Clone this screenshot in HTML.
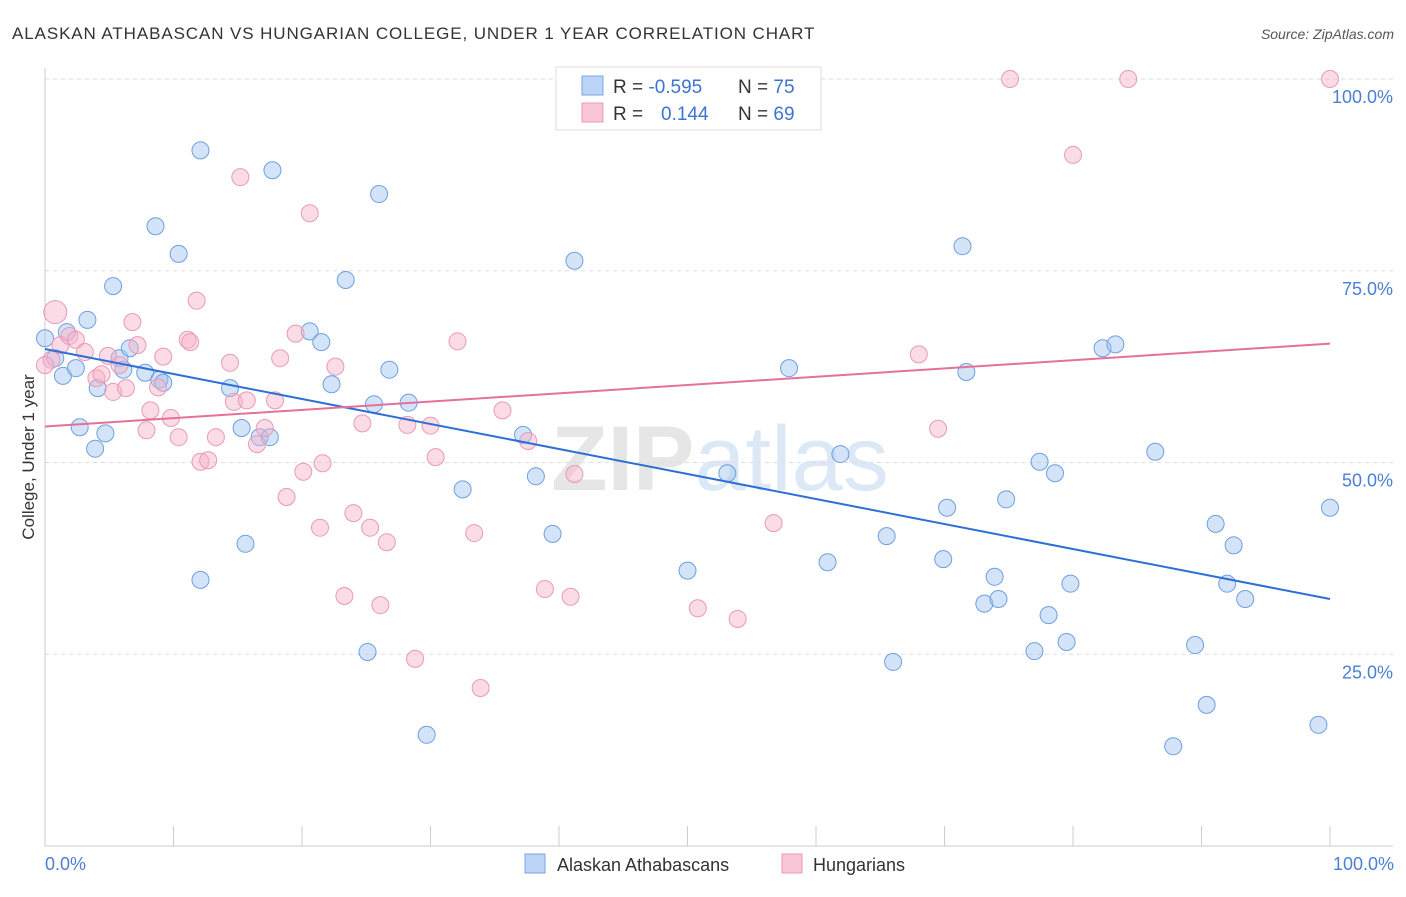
<!DOCTYPE html>
<html><head><meta charset="utf-8"><style>
body{margin:0;background:#fff;font-family:"Liberation Sans",sans-serif;}
svg text{font-family:"Liberation Sans",sans-serif;}
</style></head><body>
<svg id="chart" width="1406" height="892" xmlns="http://www.w3.org/2000/svg">
<text x="12" y="39" font-size="17" fill="#333" letter-spacing="0.9">ALASKAN ATHABASCAN VS HUNGARIAN COLLEGE, UNDER 1 YEAR CORRELATION CHART</text>
<text x="1394" y="39" font-size="14" fill="#555" text-anchor="end" font-style="italic">Source: ZipAtlas.com</text>
<text x="720" y="490" font-size="92" fill="#e6e6e6" text-anchor="middle" font-family="Liberation Serif" font-weight="bold">ZIP<tspan fill="#dce8f6" font-family="Liberation Sans" font-weight="normal">atlas</tspan></text>
<g id="grid"></g>
<g id="axes"></g>
<g id="pts"></g>
<g id="trend"></g>
<text transform="translate(34,457) rotate(-90)" font-size="17" fill="#333" text-anchor="middle">College, Under 1 year</text>
<text x="45" y="870" font-size="18" fill="#4a7fd4">0.0%</text>
<text x="1394" y="870" font-size="18" fill="#4a7fd4" text-anchor="end">100.0%</text>
<g>
<rect x="556" y="67" width="265" height="63" fill="#fff" stroke="#ddd"/>
<rect x="582" y="76" width="21" height="19" fill="#bcd4f6" stroke="#7aa6e3"/>
<rect x="582" y="103" width="21" height="19" fill="#f9c6d5" stroke="#eb9ab5"/>
<text x="613" y="93" font-size="19" fill="#333">R = <tspan fill="#3b74d1">-0.595</tspan><tspan x="738">N = </tspan><tspan fill="#3b74d1">75</tspan></text>
<text x="613" y="120" font-size="19" fill="#333">R = <tspan x="661" fill="#3b74d1">0.144</tspan><tspan x="738">N = </tspan><tspan fill="#3b74d1">69</tspan></text>
</g>
<g>
<rect x="525" y="854" width="20" height="19" fill="#bcd4f6" stroke="#7aa6e3"/>
<text x="557" y="871" font-size="18" fill="#333">Alaskan Athabascans</text>
<rect x="782" y="854" width="20" height="19" fill="#f9c6d5" stroke="#eb9ab5"/>
<text x="813" y="871" font-size="18" fill="#333">Hungarians</text>
</g>
</svg>
<script>
const yTicks=[25,50,75,100];
const yTickLabels=["25.0%","50.0%","75.0%","100.0%"];
const xTicks=[0,10,20,30,40,50,60,70,80,90,100];
const blueX=[0,0.8,1.4,1.7,2.4,2.7,3.3,3.9,4.1,4.7,5.3,5.8,6.1,6.6,7.8,8.6,8.9,9.2,10.4,12.1,12.1,14.4,15.3,15.6,16.7,17.5,17.7,20.6,21.5,22.3,23.4,25.1,25.6,26.0,26.8,28.3,29.7,32.5,37.2,38.2,39.5,41.2,50.0,53.1,57.9,60.9,61.9,65.5,66.0,69.9,70.2,71.4,71.7,73.1,73.9,74.2,74.8,77.0,77.4,78.1,78.6,79.5,79.8,82.3,83.3,86.4,87.8,89.5,90.4,91.1,92.0,92.5,93.4,99.1,100];
const blueY=[66.2,63.6,61.3,67.0,62.3,54.6,68.6,51.8,59.7,53.8,73.0,63.6,62.1,64.9,61.7,80.8,60.8,60.4,77.2,34.7,90.7,59.7,54.5,39.4,53.3,53.3,88.1,67.1,65.7,60.2,73.8,25.3,57.6,85.0,62.1,57.8,14.5,46.5,53.6,48.2,40.7,76.3,35.9,48.6,62.3,37.0,51.1,40.4,24.0,37.4,44.1,78.2,61.8,31.6,35.1,32.2,45.2,25.4,50.1,30.1,48.6,26.6,34.2,64.9,65.4,51.4,13.0,26.2,18.4,42.0,34.2,39.2,32.2,15.8,44.1];
const pinkX=[0.8,0.5,1.2,1.9,2.4,3.1,4.0,4.4,4.9,5.3,5.8,6.3,6.8,7.2,7.9,8.2,8.8,9.2,9.8,10.4,11.1,11.3,11.8,12.1,12.7,13.3,14.4,14.7,15.2,15.7,16.5,17.1,17.9,18.3,18.8,19.5,20.1,20.6,21.4,21.6,22.6,23.3,24.0,24.7,25.3,26.1,26.6,28.2,28.8,30.0,30.4,32.1,33.4,33.9,35.6,37.6,38.9,40.9,41.2,50.8,53.9,56.7,68.0,69.5,75.1,80.0,84.3,100,0];
const pinkY=[69.6,63.4,65.3,66.5,66.0,64.4,61.0,61.5,63.9,59.2,62.7,59.7,68.3,65.3,54.2,56.8,59.8,63.8,55.8,53.3,66.0,65.7,71.1,50.1,50.3,53.3,63.0,57.9,87.2,58.1,52.4,54.5,58.1,63.6,45.5,66.8,48.8,82.5,41.5,49.9,62.5,32.6,43.4,55.1,41.5,31.4,39.6,54.9,24.4,54.8,50.7,65.8,40.8,20.6,56.8,52.8,33.5,32.5,48.5,31.0,29.6,42.1,64.1,54.4,100,90.1,100,100,62.7];
const blueTrend=[64.8,32.2];
const pinkTrend=[54.7,65.5];
const NS="http://www.w3.org/2000/svg";
const X=v=>45+v*12.85;
const Y=v=>846-v*7.67;
function mk(t,a,p){const e=document.createElementNS(NS,t);for(const k in a)e.setAttribute(k,a[k]);p.appendChild(e);return e;}
const grid=document.getElementById('grid'),axes=document.getElementById('axes'),pts=document.getElementById('pts'),tr=document.getElementById('trend');
yTicks.forEach((t,i)=>{
 const l=mk('line',{x1:45,x2:1393,y1:Y(t),y2:Y(t),stroke:'#ddd','stroke-dasharray':'4,4'},grid);
 
 
 const tx=mk('text',{x:1393,y:Y(t)+24,'font-size':18,fill:'#4a7fd4','text-anchor':'end'},grid);
 tx.textContent=yTickLabels[i];
 
 
});
const ya=mk('line',{x1:45,x2:45,y1:68,y2:846,stroke:'#ccc'},axes);


const xa=mk('line',{x1:45,x2:1393,y1:846,y2:846,stroke:'#ccc'},axes);


xTicks.forEach(t=>{
 const l=mk('line',{x1:X(t),x2:X(t),y1:826,y2:846,stroke:'#ccc'},axes);
 
 
});
blueX.forEach((v,i)=>{
 const c=mk('circle',{cx:X(v),cy:Y(blueY[i]),r:8.5,fill:'rgba(160,196,240,0.45)',stroke:'#6f9fe0','stroke-width':1},pts);
 
 
});
pinkX.forEach((v,i)=>{
 const c=mk('circle',{cx:X(v),cy:Y(pinkY[i]),r:i==0?11.5:8.5,fill:'rgba(246,178,200,0.45)',stroke:'#e99ab6','stroke-width':1},pts);
 
 
});
const bl=mk('line',{x1:X(0),x2:X(100),y1:Y(blueTrend[0]),y2:Y(blueTrend[1]),stroke:'#2c6fd6','stroke-width':2},tr);


const pl=mk('line',{x1:X(0),x2:X(100),y1:Y(pinkTrend[0]),y2:Y(pinkTrend[1]),stroke:'#e5709a','stroke-width':2},tr);


</script>
</body></html>
